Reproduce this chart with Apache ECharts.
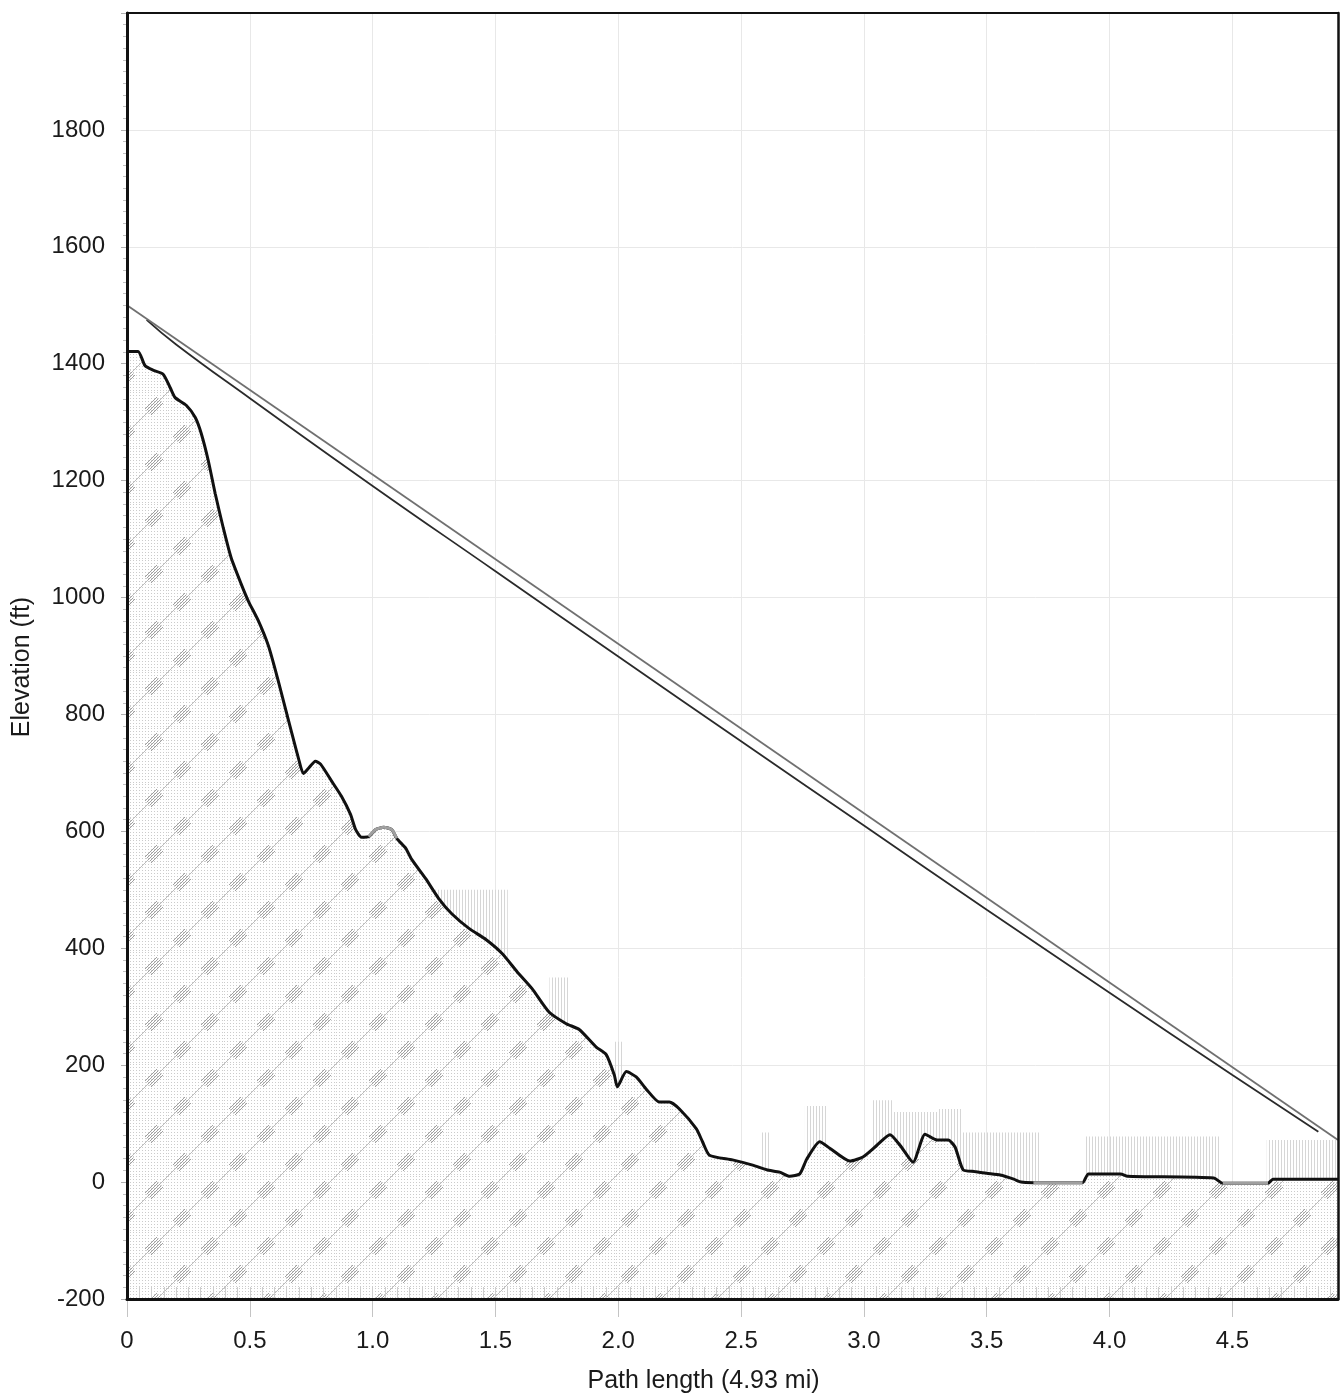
<!DOCTYPE html>
<html>
<head>
<meta charset="utf-8">
<title>Path profile</title>
<script src="https://cdn.jsdelivr.net/npm/echarts@6/dist/echarts.min.js"></script>
<style>
  html, body { margin: 0; padding: 0; background: #fff; }
  #chart { width: 1341px; height: 1395px; }
</style>
</head>
<body>
<div id="chart"></div>
<script>
// Path length in miles and elevation range in feet
const PATH_LENGTH = 4.93;
const X_TICKS = [0, 0.5, 1.0, 1.5, 2.0, 2.5, 3.0, 3.5, 4.0, 4.5];
const Y_TICKS = [-200, 0, 200, 400, 600, 800, 1000, 1200, 1400, 1600, 1800];

// Ground profile: [distance (mi), elevation (ft)]
const terrain = [
  [0.000,1421],[0.045,1421],[0.073,1397],[0.106,1389],[0.147,1382],[0.176,1359],
  [0.196,1342],[0.241,1329],[0.278,1308],[0.302,1281],[0.331,1234],[0.359,1178],
  [0.392,1119],[0.424,1068],[0.465,1023],[0.494,994],[0.535,960],[0.576,917],
  [0.616,857],[0.669,771],[0.698,725],[0.718,699],[0.739,708],[0.767,720],
  [0.788,715],[0.833,686],[0.873,660],[0.910,629],[0.931,603],[0.955,590],
  [0.984,591],[1.012,603],[1.045,607],[1.078,603],[1.098,588],[1.135,571],
  [1.159,552],[1.216,519],[1.269,485],[1.322,459],[1.392,434],[1.461,415],
  [1.527,391],[1.588,360],[1.649,331],[1.718,291],[1.788,271],[1.841,261],
  [1.910,231],[1.951,218],[1.984,183],[1.996,163],[2.033,189],[2.073,180],
  [2.114,159],[2.167,137],[2.208,137],[2.249,125],[2.318,91],[2.343,69],
  [2.371,46],[2.465,38],[2.547,29],[2.604,21],[2.657,17],[2.698,10],
  [2.739,14],[2.767,39],[2.820,69],[2.861,58],[2.943,36],[2.996,43],
  [3.053,63],[3.106,81],[3.147,63],[3.200,34],[3.249,82],[3.298,72],
  [3.343,72],[3.371,60],[3.404,21],[3.450,18],[3.500,15],[3.555,12],
  [3.610,5],[3.640,0],[3.690,-1],[3.890,-1],[3.914,14],[4.045,14],
  [4.073,10],[4.424,7],[4.461,-2],[4.645,-2],[4.665,5],[4.930,5]
];

// Stretches of the profile drawn in grey (water / low ground)
const greySpans = [[0.97, 1.13], [3.69, 3.89], [4.46, 4.65]];

// Straight line of sight between the two antennas
const lineOfSight = [[0, 1500], [4.93, 72]];

// Lower clearance line (sags below the line of sight mid-path)
const clearance = [
  [0.08,1475],[0.20,1433],[0.50,1341],[1.00,1191],[1.50,1045],[2.00,899],
  [2.50,754],[3.00,610],[3.50,466],[4.00,324],[4.50,183],[4.85,86]
];

// Ground clutter blocks: [from (mi), to (mi), top elevation (ft)]
const clutter = [
  [1.25,1.55,500],[1.72,1.80,350],[1.98,2.02,240],[2.58,2.62,85],
  [2.76,2.85,130],[3.03,3.12,140],[3.12,3.30,120],[3.30,3.40,125],
  [3.40,3.72,85],[3.90,4.45,78],[4.64,4.93,72]
];

const FONT = 'Liberation Sans, Arial, sans-serif';
const TEXT = '#1a1a1a';

// Diagonal hatch texture used for the ground fill
function hatchPattern() {
  const s = 56;
  const c = document.createElement('canvas');
  c.width = s; c.height = s;
  const g = c.getContext('2d');
  g.fillStyle = '#ffffff';
  g.fillRect(0, 0, s, s);
  g.fillStyle = '#cbcbcb';
  for (let x = 0; x < s; x += 3) {
    for (let y = 0; y < s; y += 3) g.fillRect(x, y, 1, 1);
  }
  g.strokeStyle = '#bdbdbd';
  g.lineWidth = 1;
  g.beginPath(); g.moveTo(0, s); g.lineTo(s, 0); g.stroke();
  g.strokeStyle = '#a0a0a0';
  [[14, 42], [42, 14]].forEach(([cx, cy]) => {
    for (let k = -3; k <= 3; k += 1.5) {
      g.beginPath();
      g.moveTo(cx - 6 + k, cy + 6 + k);
      g.lineTo(cx + 6 + k, cy - 6 + k);
      g.stroke();
    }
  });
  return { image: c, repeat: 'repeat' };
}

// Thin vertical stripes used for clutter
function stripePattern() {
  const c = document.createElement('canvas');
  c.width = 3; c.height = 4;
  const g = c.getContext('2d');
  g.fillStyle = '#d6d6d6';
  g.fillRect(0, 0, 1, 4);
  return { image: c, repeat: 'repeat' };
}

function inSpan(p, span) { return p[0] >= span[0] && p[0] <= span[1]; }

const chart = echarts.init(document.getElementById('chart'), null, { renderer: 'canvas' });

const greySeries = greySpans.map(span => ({
  type: 'line',
  data: terrain.filter(p => inSpan(p, span)),
  showSymbol: false,
  smooth: 0.2,
  lineStyle: { color: '#a0a0a0', width: 3 },
  z: 5,
  silent: true
}));

// Frame axes drawn above the series so the plot box stays crisp
const frameX = (position, width) => ({
  type: 'value', min: 0, max: PATH_LENGTH, position, z: 10,
  axisLine: { show: true, onZero: false, lineStyle: { color: '#111', width } },
  axisTick: { show: false }, axisLabel: { show: false }, splitLine: { show: false }
});
const frameY = (position, width) => ({
  type: 'value', min: -200, max: 2000, position, z: 10,
  axisLine: { show: true, onZero: false, lineStyle: { color: '#111', width } },
  axisTick: { show: false }, axisLabel: { show: false }, splitLine: { show: false }
});

const option = {
  animation: false,
  backgroundColor: '#ffffff',
  grid: { left: 127, right: 3, top: 13, bottom: 96, outerBoundsMode: 'none' },
  xAxis: [{
    type: 'value',
    min: 0, max: PATH_LENGTH, interval: 0.5,
    axisLine: { show: false, onZero: false },
    axisTick: { show: true, length: 18, lineStyle: { color: '#c4c4c4' } },
    splitLine: { show: true, lineStyle: { color: '#e8e8e8', width: 1 } },
    axisLabel: {
      margin: 30, fontSize: 24, color: TEXT, fontFamily: FONT,
      showMaxLabel: false,
      formatter: v => (X_TICKS.indexOf(+v.toFixed(2)) < 0 ? '' : (v === 0 ? '0' : v.toFixed(1)))
    },
    name: 'Path length (4.93 mi)',
    nameLocation: 'middle',
    nameGap: 70,
    nameTextStyle: { fontSize: 25, color: TEXT, fontFamily: FONT, padding: [0, 58, 0, 0] }
  }, {
    type: 'value',
    min: 0, max: PATH_LENGTH, interval: 0.05,
    position: 'bottom', z: 9,
    axisLine: { show: false, onZero: false },
    axisTick: { show: true, inside: true, length: 12, lineStyle: { color: '#cdcdcd' } },
    axisLabel: { show: false },
    splitLine: { show: false }
  },
  frameX('bottom', 3),
  frameX('top', 2)
  ],
  yAxis: [{
    type: 'value',
    min: -200, max: 2000, interval: 200,
    axisLine: { show: false, onZero: false },
    axisTick: { show: true, length: 6, lineStyle: { color: '#b0b0b0' } },
    minorTick: { show: true, splitNumber: 10, length: 4, lineStyle: { color: '#c0c0c0' } },
    splitLine: { show: true, lineStyle: { color: '#e8e8e8', width: 1 } },
    axisLabel: {
      margin: 22, fontSize: 24, color: TEXT, fontFamily: FONT,
      formatter: v => (Y_TICKS.indexOf(v) < 0 ? '' : String(v))
    },
    name: 'Elevation (ft)',
    nameLocation: 'middle',
    nameGap: 92,
    nameTextStyle: { fontSize: 25, color: TEXT, fontFamily: FONT, padding: [0, 22, 0, 0] }
  },
  frameY('left', 3),
  frameY('right', 2.5)
  ],
  series: [
    {
      type: 'custom',
      data: clutter,
      z: 1,
      silent: true,
      renderItem: (params, api) => {
        const p0 = api.coord([api.value(0), api.value(2)]);
        const p1 = api.coord([api.value(1), -200]);
        return {
          type: 'rect',
          shape: { x: p0[0], y: p0[1], width: p1[0] - p0[0], height: p1[1] - p0[1] },
          style: { fill: stripePattern() }
        };
      },
      clip: true
    },
    {
      type: 'line',
      data: terrain,
      showSymbol: false,
      smooth: 0.2,
      lineStyle: { color: '#111', width: 3 },
      areaStyle: { origin: 'start', color: hatchPattern(), opacity: 1 },
      z: 3,
      silent: true
    },
    ...greySeries,
    {
      type: 'line',
      data: clearance,
      showSymbol: false,
      smooth: true,
      lineStyle: { color: '#2a2a2a', width: 1.8 },
      z: 6,
      silent: true
    },
    {
      type: 'line',
      data: lineOfSight,
      showSymbol: false,
      lineStyle: { color: '#707070', width: 1.8 },
      z: 6,
      silent: true
    }
  ]
};

chart.setOption(option);
</script>
</body>
</html>
